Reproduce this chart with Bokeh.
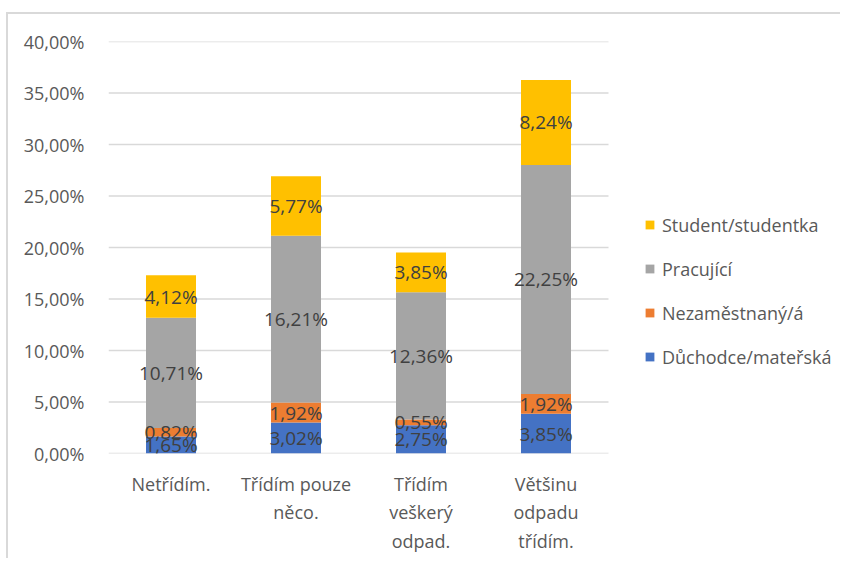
from bokeh.plotting import figure
from bokeh.models import ColumnDataSource, Range1d, FixedTicker, Legend, LegendItem
from bokeh.core.properties import value
from bokeh.embed import file_html
from bokeh.resources import INLINE

categories = ["Netřídím.", "Třídím pouze\nněco.", "Třídím\nveškerý\nodpad.", "Většinu\nodpadu\ntřídím."]
series = ["Důchodce/mateřská", "Nezaměstnaný/á", "Pracující", "Student/studentka"]
duchodce = [1.65, 3.02, 2.75, 3.85]
nezamestnany = [0.82, 1.92, 0.55, 1.92]
pracujici = [10.71, 16.21, 12.36, 22.25]
student = [4.12, 5.77, 3.85, 8.24]
colors = ["#4472C4", "#ED7D31", "#A5A5A5", "#FFC000"]
y_ticks = [0, 5, 10, 15, 20, 25, 30, 35, 40]

FONT = "Open Sans"
N = len(categories)
FRAME_W = 734          # px: plot area plus legend area
CAT_PX = 125           # px per category
x_end = FRAME_W / CAT_PX

xs = [i + 0.5 for i in range(N)]
data = {"x": xs, "s0": duchodce, "s1": nezamestnany, "s2": pracujici, "s3": student}
src = ColumnDataSource(data)

p = figure(width=834, height=546, output_backend="svg", toolbar_location=None,
           x_range=Range1d(0, x_end), y_range=Range1d(0, 40),
           min_border_left=100, min_border_right=0, min_border_top=27, min_border_bottom=107)
p.styles = {"border-top": "2px solid #d9d9d9", "border-left": "2px solid #d9d9d9",
            "margin-top": "12px", "margin-left": "6px"}
p.outline_line_color = None

# gridlines limited to the category area
p.segment(x0=[0] * len(y_ticks), x1=[N] * len(y_ticks), y0=y_ticks, y1=y_ticks,
          line_color="#d9d9d9", line_width=1.5)

rs = p.vbar_stack(["s0", "s1", "s2", "s3"], x="x", width=0.4, color=colors, source=src, line_color=None)

# data labels
lx, ly, lt = [], [], []
stacks = [duchodce, nezamestnany, pracujici, student]
for i in range(N):
    base = 0.0
    for s in stacks:
        v = s[i]
        lx.append(xs[i])
        ly.append(base + v / 2)
        lt.append(f"{v:.2f}".replace(".", ",") + "%")
        base += v
p.text(x=lx, y=ly, text=lt, text_align="center", text_baseline="middle",
       text_font=value(FONT), text_font_size="19px", text_color="#404040")

# axes
p.xaxis.ticker = FixedTicker(ticks=xs)
p.xaxis.major_label_overrides = {x: c for x, c in zip(xs, categories)}
p.xaxis.major_tick_line_color = None
p.xaxis.minor_tick_line_color = None
p.xaxis.axis_line_color = None
p.xaxis.major_label_text_font = FONT
p.xaxis.major_label_text_font_size = "18px"
p.xaxis.major_label_text_color = "#595959"
p.xaxis.major_label_text_line_height = 1.2
p.xaxis.major_label_standoff = 12
p.xgrid.grid_line_color = None

p.yaxis.ticker = FixedTicker(ticks=y_ticks)
p.yaxis.major_label_overrides = {t: f"{t:.2f}".replace(".", ",") + "%" for t in y_ticks}
p.yaxis.major_tick_line_color = None
p.yaxis.minor_tick_line_color = None
p.yaxis.axis_line_color = None
p.yaxis.major_label_text_font = FONT
p.yaxis.major_label_text_font_size = "18px"
p.yaxis.major_label_text_color = "#595959"
p.yaxis.major_label_standoff = 18
p.ygrid.grid_line_color = None

items = [LegendItem(label=series[i], renderers=[rs[i]]) for i in [3, 2, 1, 0]]
legend = Legend(items=items, location=(536, 84), orientation="vertical",
                glyph_width=11, glyph_height=11, label_height=25, spacing=19,
                padding=0, margin=0, label_standoff=7,
                label_text_font=FONT, label_text_font_size="18px", label_text_color="#595959",
                border_line_color=None, background_fill_alpha=0)
p.add_layout(legend, "center")

open("out.html", "w").write(file_html(p, INLINE))
